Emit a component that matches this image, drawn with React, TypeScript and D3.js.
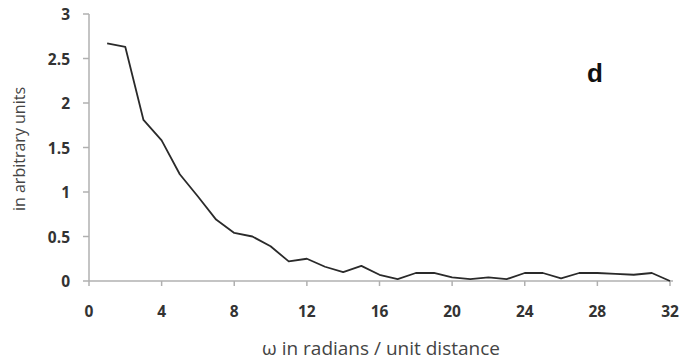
import React from "react";
import * as d3 from "d3";

const omega = [1, 2, 3, 4, 5, 6, 7, 8, 9, 10, 11, 12, 13, 14, 15, 16, 17, 18, 19, 20, 21, 22, 23, 24, 25, 26, 27, 28, 29, 30, 31, 32];
const amplitude = [2.67, 2.63, 1.81, 1.58, 1.2, 0.95, 0.69, 0.54, 0.5, 0.39, 0.22, 0.25, 0.16, 0.1, 0.17, 0.07, 0.02, 0.09, 0.09, 0.04, 0.02, 0.04, 0.02, 0.09, 0.09, 0.03, 0.09, 0.09, 0.08, 0.07, 0.09, 0.0];
const xTicks = [0, 4, 8, 12, 16, 20, 24, 28, 32];
const yTicks = [0, 0.5, 1, 1.5, 2, 2.5, 3];

const W = 685;
const H = 361;
const left = 89;
const right = 670;
const top = 14;
const bottom = 281;

export default function App() {
  const x = d3.scaleLinear().domain([0, 32]).range([left, right]);
  const y = d3.scaleLinear().domain([0, 3]).range([bottom, top]);
  const line = d3
    .line<number>()
    .x((_, i) => x(omega[i]))
    .y((d) => y(d));
  const axisColor = "#b0b0b0";
  const labelColor = "#333";
  const font = "Open Sans, Liberation Sans, sans-serif";
  return (
    <svg
      width={W}
      height={H}
      style={{ position: "absolute", left: 0, top: 0, background: "#fff" }}
    >
      <rect x={0} y={0} width={W} height={H} fill="#fff" />
      {/* y axis */}
      <line x1={left} x2={left} y1={top} y2={bottom} stroke={axisColor} strokeWidth={1.5} />
      {yTicks.map((t) => (
        <g key={"y" + t}>
          <line x1={left - 6} x2={left} y1={y(t)} y2={y(t)} stroke={axisColor} strokeWidth={1.5} />
          <text
            x={70}
            y={y(t)}
            textAnchor="end"
            dominantBaseline="central"
            fontFamily={font}
            fontWeight="bold"
            fontSize={15.5}
            fill={labelColor}
          >
            {t}
          </text>
        </g>
      ))}
      {/* x axis */}
      <line x1={left} x2={right + 3} y1={bottom} y2={bottom} stroke={axisColor} strokeWidth={1.5} />
      {xTicks.map((t) => (
        <g key={"x" + t}>
          <line x1={x(t)} x2={x(t)} y1={bottom} y2={bottom + 5} stroke={axisColor} strokeWidth={1.5} />
          <text
            x={x(t)}
            y={311}
            textAnchor="middle"
            dominantBaseline="central"
            fontFamily={font}
            fontWeight="bold"
            fontSize={15.5}
            fill={labelColor}
          >
            {t}
          </text>
        </g>
      ))}
      <path d={line(amplitude) || ""} fill="none" stroke="#2a2a2a" strokeWidth={1.8} strokeLinejoin="round" />
      <text
        x={381}
        y={348}
        textAnchor="middle"
        dominantBaseline="central"
        fontFamily={font}
        fontSize={19}
        fill="#444"
      >
        ω in radians / unit distance
      </text>
      <text
        transform={`translate(19, 149) rotate(-90)`}
        textAnchor="middle"
        dominantBaseline="central"
        fontFamily={font}
        fontSize={16}
        fill="#444"
      >
        in arbitrary units
      </text>
      <text
        x={595}
        y={82}
        textAnchor="middle"
        fontFamily="Liberation Sans, Arial, sans-serif"
        fontWeight="bold"
        fontSize={26}
        fill="#111"
      >
        d
      </text>
    </svg>
  );
}
